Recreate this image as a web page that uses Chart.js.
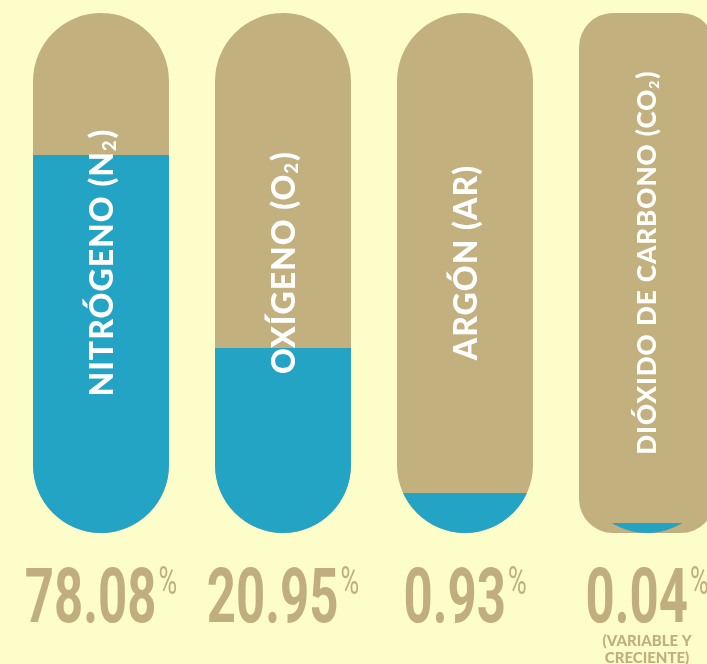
<!DOCTYPE html>
<html>
<head>
<meta charset="utf-8">
<script src="https://cdn.jsdelivr.net/npm/chart.js@4/dist/chart.umd.min.js"></script>
<style>
  html, body { margin: 0; padding: 0; background: #fcfdc8; overflow: hidden; }
  #wrap { width: 750px; height: 664px; }
</style>
</head>
<body>
<div id="wrap"><canvas id="chart" width="750" height="664"></canvas></div>
<script>
//
// DATA
//

const gases = ["NITRÓGENO (N₂)", "OXÍGENO (O₂)", "ARGÓN (AR)", "DIÓXIDO DE CARBONO (CO₂)"];
const percentages = [78.08, 20.95, 0.93, 0.04];
// how full each capsule is drawn (not to scale with the %)
const fillLevels = [72.7, 35.6, 7.7, 1.9];
const capsuleFull = [100, 100, 100, 100];
const footnotes = [[], [], [], ["(VARIABLE Y", "CRECIENTE)"]];

//
// STYLE
//

const TAN = "#c2b07e";
const BLUE = "#24a4c4";
const TEXT_TAN = "#c0ae7f";
const labelSizes = [32, 32, 32, 26];
const capsuleCorners = [999, 999, 999, 34];

//
// HELPER FUNCTIONS
//

function drawGasLabel(ctx, text, x, y, size) {
  const parts = text.split("₂");
  const mainFont = `900 ${size}px Lato`;
  const subFont = `900 ${Math.round(size * 0.55)}px Lato`;
  ctx.save();
  ctx.letterSpacing = "1px";
  ctx.font = mainFont;
  const w0 = ctx.measureText(parts[0]).width;
  const w2 = parts.length > 1 ? ctx.measureText(parts[1]).width : 0;
  ctx.font = subFont;
  const w1 = parts.length > 1 ? ctx.measureText("2").width + 1 : 0;
  const total = w0 + w1 + w2;

  ctx.translate(x, y);
  ctx.rotate(-Math.PI / 2);
  ctx.fillStyle = "#ffffff";
  ctx.textBaseline = "alphabetic";
  ctx.textAlign = "left";
  const base = size * 0.36;
  let cx = -total / 2;
  ctx.font = mainFont;
  ctx.fillText(parts[0], cx, base);
  cx += w0;
  if (parts.length > 1) {
    ctx.font = subFont;
    ctx.fillText("2", cx, base + size * 0.12);
    cx += w1;
    ctx.font = mainFont;
    ctx.fillText(parts[1], cx, base);
  }
  ctx.restore();
}

function drawPercent(ctx, value, x, baseline) {
  const num = value.toFixed(2);
  const sx = 0.67;
  ctx.save();
  ctx.font = "bold 76px Roboto";
  const numW = ctx.measureText(num).width;
  ctx.font = "38px Roboto";
  const pW = ctx.measureText("%").width;
  const total = (numW + 3 + pW) * sx;
  ctx.translate(x - total / 2, baseline);
  ctx.scale(sx, 1);
  ctx.fillStyle = TEXT_TAN;
  ctx.textBaseline = "alphabetic";
  ctx.textAlign = "left";
  ctx.font = "bold 76px Roboto";
  ctx.fillText(num, 0, 0);
  ctx.font = "38px Roboto";
  ctx.fillText("%", numW + 3, -28);
  ctx.restore();
}

//
// PLUGINS
//

const capsuleClip = {
  id: "capsuleClip",
  beforeDatasetDraw(chart, args) {
    if (args.index !== 1) return;
    const ctx = chart.ctx;
    ctx.save();
    ctx.beginPath();
    chart.getDatasetMeta(0).data.forEach((bar) => {
      const { x, y, base, width } = bar.getProps(["x", "y", "base", "width"], true);
      ctx.roundRect(x - width / 2, y, width, base - y, width / 2);
    });
    ctx.clip();
  },
  afterDatasetDraw(chart, args) {
    if (args.index === 1) chart.ctx.restore();
  },
};

const capsuleText = {
  id: "capsuleText",
  afterDatasetsDraw(chart) {
    const ctx = chart.ctx;
    const yMid = chart.scales.y.getPixelForValue(52);
    chart.getDatasetMeta(0).data.forEach((bar, i) => {
      drawGasLabel(ctx, gases[i], bar.x, yMid, labelSizes[i]);
      drawPercent(ctx, percentages[i], bar.x, 622);
      ctx.save();
      ctx.font = "900 15px Lato";
      ctx.fillStyle = TEXT_TAN;
      ctx.textAlign = "center";
      footnotes[i].forEach((line, k) => {
        ctx.fillText(line, bar.x, 646 + k * 17);
      });
      ctx.restore();
    });
  },
};

//
// CHART
//

new Chart(document.getElementById("chart"), {
  type: "bar",
  data: {
    labels: gases,
    datasets: [
      {
        data: capsuleFull,
        backgroundColor: TAN,
        borderSkipped: false,
        borderRadius: (c) => capsuleCorners[c.dataIndex],
        grouped: false,
        order: 2,
      },
      {
        data: fillLevels,
        backgroundColor: BLUE,
        borderSkipped: false,
        grouped: false,
        order: 1,
      },
    ],
  },
  options: {
    responsive: false,
    animation: false,
    layout: { padding: { left: 10, right: 12, top: 13, bottom: 131 } },
    categoryPercentage: 1.0,
    barPercentage: 0.747,
    scales: {
      x: { display: false },
      y: { display: false, min: 0, max: 100 },
    },
    plugins: {
      legend: { display: false },
      tooltip: { enabled: false },
    },
  },
  plugins: [capsuleClip, capsuleText],
});
</script>
</body>
</html>
